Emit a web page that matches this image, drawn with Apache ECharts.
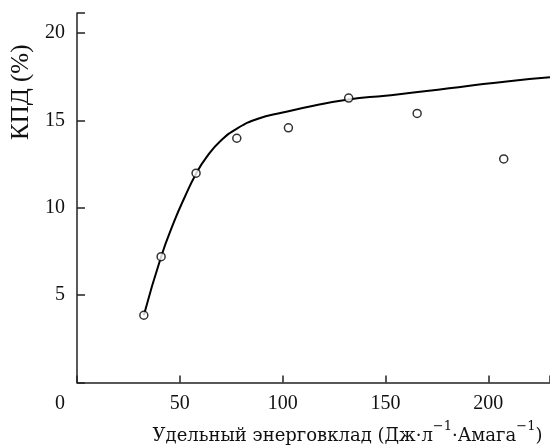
<!DOCTYPE html>
<html><head><meta charset="utf-8">
<script src="https://cdn.jsdelivr.net/npm/echarts@6/dist/echarts.min.js"></script>
<style>html,body{margin:0;padding:0;background:#fff}#c{width:550px;height:446px}</style>
</head><body><div id="c"></div>
<script>
// measured points (x: energy input, y: efficiency %)
const pointsX = [32.5, 40.9, 57.9, 77.7, 102.8, 132.1, 165.4, 207.5];
const pointsY = [3.85, 7.2, 11.98, 13.98, 14.58, 16.28, 15.40, 12.80];
// fitted curve samples
const curveX = [32.5, 40.9, 47.4, 52.3, 57.9, 63, 70, 78, 88, 100, 115, 132, 150, 170, 190, 210, 230];
const curveY = [3.85, 7.2, 9.26, 10.59, 11.95, 12.9, 13.85, 14.55, 15.1, 15.45, 15.84, 16.2, 16.42, 16.68, 16.97, 17.25, 17.47];
const xTicks = [0, 50, 100, 150, 200];
const yTicks = [5, 10, 15, 20];

const FONT = 'Liberation Serif';
const chart = echarts.init(document.getElementById('c'));
chart.setOption({
  animation: false,
  backgroundColor: '#fff',
  grid: {left: 77, right: 0, top: 13, bottom: 63.5, containLabel: false, outerBoundsMode: 'none'},
  xAxis: {
    type: 'value', min: 0, max: 230, interval: 50,
    axisLine: {lineStyle: {color: '#222', width: 1.5}},
    axisTick: {inside: true, length: 7, lineStyle: {color: '#222', width: 1.5}},
    splitLine: {show: false},
    axisLabel: {
      margin: 11, color: '#111', fontFamily: FONT, fontSize: 20,
      formatter: v => xTicks.indexOf(v) < 0 ? '' : (v === 0 ? '{z|0}' : String(v)),
      rich: {z: {padding: [0, 34, 0, 0], fontFamily: FONT, fontSize: 20, color: '#111'}}
    },
    name: 'Удельный энерговклад (Дж·л{s|−1}·Амага{s|−1})',
    nameLocation: 'middle', nameGap: 38,
    nameTextStyle: {
      color: '#111', fontFamily: 'DejaVu Serif', fontSize: 18, lineHeight: 32, padding: [0, 0, 0, 68],
      rich: {s: {fontFamily: 'DejaVu Serif', fontSize: 13, color: '#111', verticalAlign: 'top', lineHeight: 13}}
    }
  },
  yAxis: {
    type: 'value', min: 0, max: 21.15, interval: 5,
    axisLine: {lineStyle: {color: '#222', width: 1.5}},
    axisTick: {inside: true, length: 8, lineStyle: {color: '#222', width: 1.5}},
    splitLine: {show: false},
    axisLabel: {
      margin: 12, color: '#111', fontFamily: FONT, fontSize: 20,
      formatter: v => yTicks.indexOf(v) < 0 ? '' : String(v)
    },
    name: 'КПД (%)', nameLocation: 'middle', nameGap: 40,
    nameTextStyle: {color: '#111', fontFamily: FONT, fontSize: 25, padding: [0, 0, 0, 211]}
  },
  series: [
    {
      type: 'line', data: curveX.map((x, i) => [x, curveY[i]]),
      smooth: 0.5, showSymbol: false, symbol: 'none',
      lineStyle: {color: '#000', width: 2}, z: 2
    },
    {
      type: 'scatter', data: pointsX.map((x, i) => [x, pointsY[i]]),
      symbol: 'circle', symbolSize: 8,
      itemStyle: {color: '#fff', borderColor: '#000', borderWidth: 1.5}, z: 3
    }
  ]
});
</script></body></html>
